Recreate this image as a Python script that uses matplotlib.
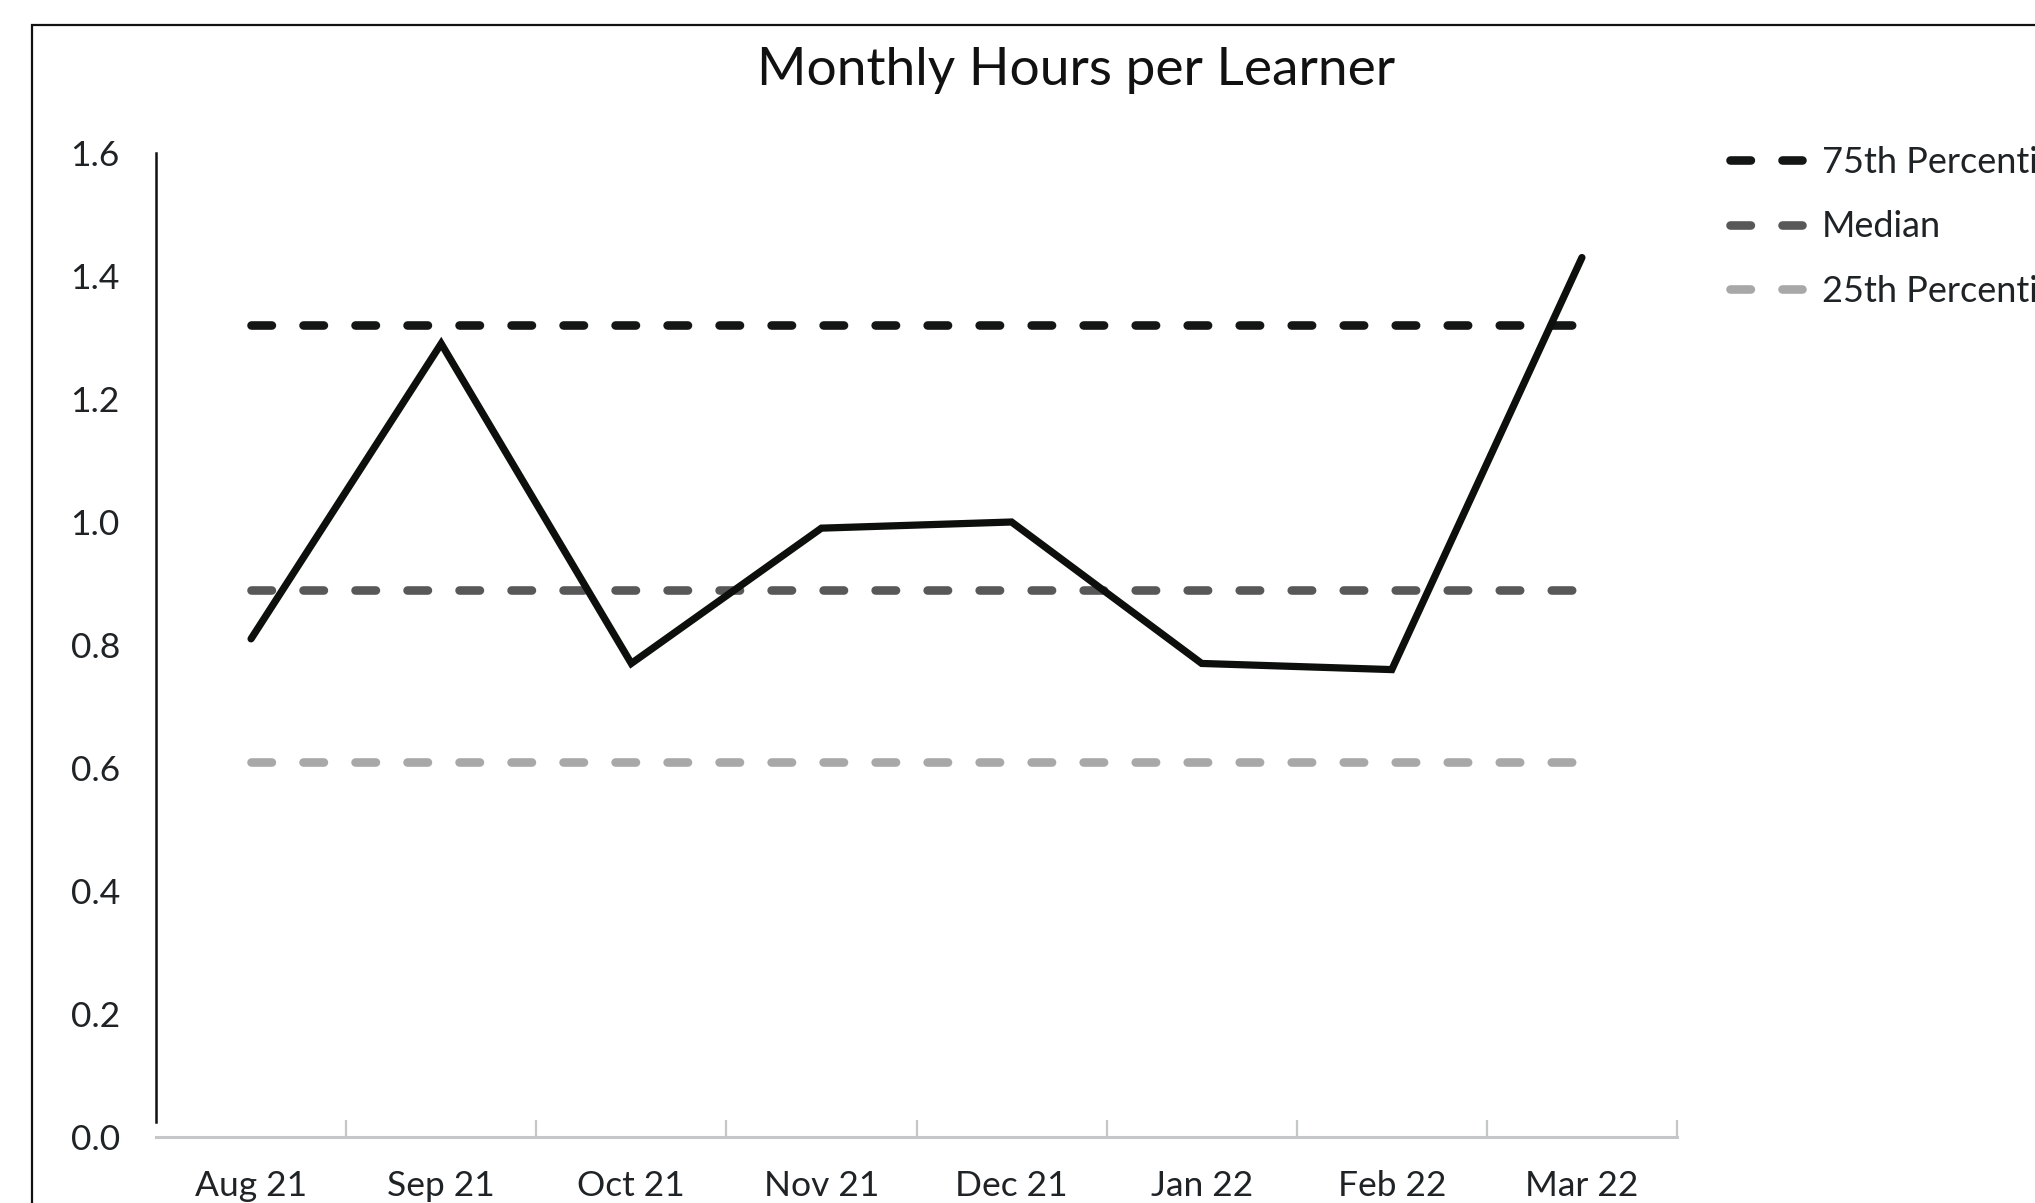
import matplotlib
matplotlib.use("Agg")
import matplotlib.pyplot as plt
from matplotlib.patches import Rectangle
import numpy as np

# ---- data ----
months = ["Aug 21", "Sep 21", "Oct 21", "Nov 21", "Dec 21", "Jan 22", "Feb 22", "Mar 22"]
hours = [0.81, 1.29, 0.77, 0.99, 1.00, 0.77, 0.76, 1.43]
p75_value = 1.32
median_value = 0.89
p25_value = 0.61
ref_names = ["75th Percentile", "Median", "25th Percentile"]
ytick_values = [0.0, 0.2, 0.4, 0.6, 0.8, 1.0, 1.2, 1.4, 1.6]
ytick_labels = ["0.0", "0.2", "0.4", "0.6", "0.8", "1.0", "1.2", "1.4", "1.6"]
title = "Monthly Hours per Learner"

plt.rcParams['font.family'] = ['Lato', 'DejaVu Sans']

W, H = 2035, 1203
fig = plt.figure(figsize=(W / 100, H / 100), dpi=100)
fig.patch.set_facecolor("white")

# outer frame (cropped screenshot border: left + top visible)
fig.patches.append(Rectangle((32 / W, -0.5), 3.0, (1 - 24.5 / H) + 0.5,
                             transform=fig.transFigure, fill=False,
                             edgecolor="#111111", linewidth=1.6, clip_on=False))

ax = fig.add_axes([156 / W, 66 / H, (1677 - 156) / W, (1137 - 153) / H])
x = np.arange(len(months))

lw_ref = 6.2
dash = (2.37, 3.67)
ref_vals = [p75_value, median_value, p25_value]
ref_colors = ["#141616", "#585858", "#a8a8a8"]
handles = []
for name, val, col in zip(ref_names, ref_vals, ref_colors):
    h, = ax.plot(x, [val] * len(x), color=col, lw=lw_ref, dashes=dash,
                 dash_capstyle="round", solid_capstyle="round", label=name, zorder=2)
    handles.append(h)

ax.plot(x, hours, color="#0c0f0c", lw=5.2, solid_joinstyle="miter",
        solid_capstyle="round", zorder=3)

ax.set_xlim(-0.5, len(months) - 0.5)
ax.set_ylim(0, 1.6)

for s in ["top", "right"]:
    ax.spines[s].set_visible(False)
ax.spines["left"].set_color("#111111")
ax.spines["left"].set_linewidth(1.8)
ax.spines["left"].set_bounds(0.025, 1.6)
ax.spines["bottom"].set_color("#c4c7c7")
ax.spines["bottom"].set_linewidth(2.2)

txt_col = "#1f2326"
ax.set_xticks(x)
ax.set_xticklabels(months)
ax.set_xticks(np.arange(0.5, len(months), 1.0), minor=True)
ax.tick_params(axis="x", which="major", length=0, pad=24, labelsize=25.5, labelcolor=txt_col)
ax.tick_params(axis="x", which="minor", length=12, width=1.6, direction="in", color="#c4c7c7")
ax.set_yticks(ytick_values)
ax.set_yticklabels(ytick_labels)
ax.tick_params(axis="y", length=0, pad=26, labelsize=25.5, labelcolor=txt_col)

fig.text(1076 / W, 1 - 71 / H, title, ha="center", va="center",
         fontsize=38.3, color="#111111")

leg = fig.legend(handles=handles, loc="upper left",
                 bbox_to_anchor=(1730 / W, 1 - 146 / H), frameon=False,
                 fontsize=26, handlelength=2.0, handletextpad=0.55,
                 labelspacing=0.87, borderaxespad=0, borderpad=0)
for t in leg.get_texts():
    t.set_color(txt_col)

fig.savefig("out.png", dpi=100)
